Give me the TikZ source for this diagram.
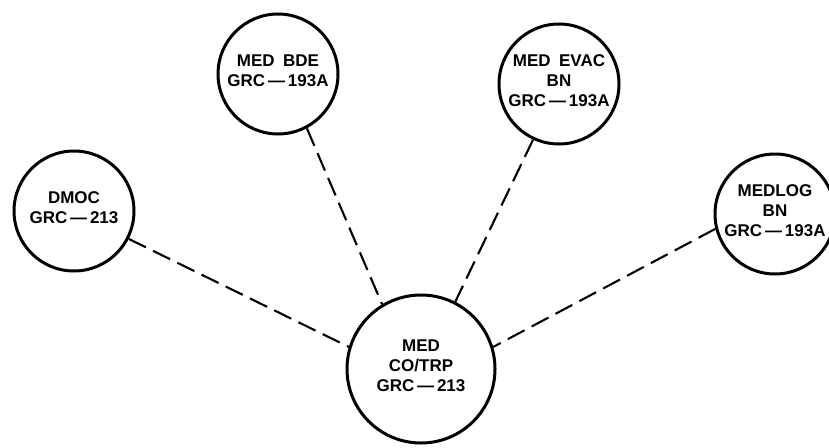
\documentclass[tikz,border=0pt]{standalone}
\usepackage{fontspec}
\setmainfont{Liberation Sans}
\newcommand{\upshift}{\rule[-7pt]{0pt}{7pt}}
\begin{document}
\begin{tikzpicture}[x=1pt,y=-1pt,
  station/.style={circle,draw=black,line width=3pt,inner sep=0pt,align=center,
    font=\fontsize{17}{20}\selectfont\bfseries},
  link/.style={line width=2.1pt,dash pattern=on 19pt off 8pt}]
\useasboundingbox (0,0) rectangle (829,447);
\node[station,minimum size=120pt] (dmoc) at (74,211) {DMOC\\GRC\,---\,213\upshift};
\node[station,minimum size=120pt] (bde) at (278,74) {MED\hspace{0.5em}BDE\\GRC\,---\,193A\upshift};
\node[station,minimum size=120pt] (evac) at (559,84) {MED\hspace{0.5em}EVAC\\BN\\GRC\,---\,193A\upshift};
\node[station,minimum size=120pt] (medlog) at (775,214) {MEDLOG\\BN\\GRC\,---\,193A\upshift};
\node[station,minimum size=148pt] (co) at (421,369) {MED\\CO/TRP\\GRC\,---\,213\upshift};
\draw[link] (dmoc.-27) -- (co.163);
\draw[link] (bde.-62) -- (co.121);
\draw[link] (evac.-115) -- (co.63);
\draw[link] (medlog.194) -- (co.17);
\end{tikzpicture}
\end{document}
